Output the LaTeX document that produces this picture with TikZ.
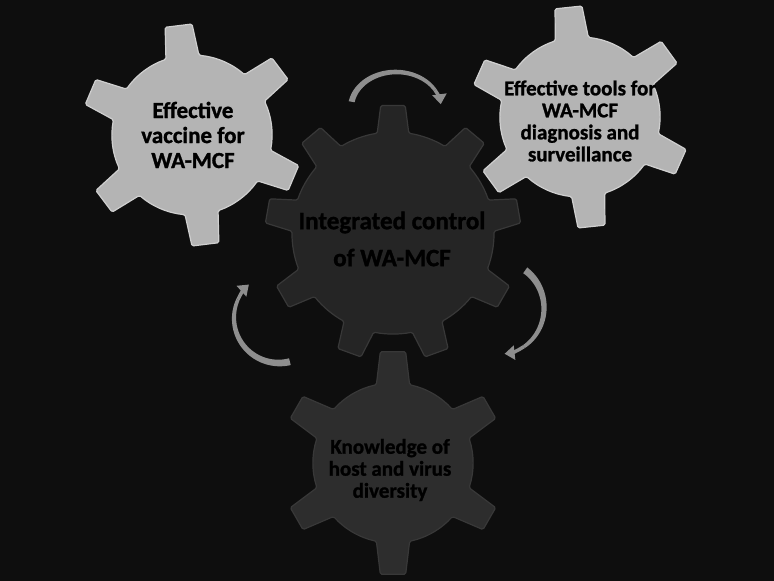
\documentclass[tikz,border=0pt]{standalone}
\usepackage{fontspec}
\setmainfont{Carlito}[BoldFeatures={FakeBold=1.2}]
\usetikzlibrary{arrows.meta}
\definecolor{bgc}{HTML}{0E0E0E}
\definecolor{lightg}{HTML}{B4B4B4}
\definecolor{lightedge}{HTML}{CFCFCF}
\definecolor{darkg}{HTML}{252525}
\definecolor{darkgb}{HTML}{2D2D2D}
\definecolor{darkedge}{HTML}{383838}
\definecolor{arrowc}{HTML}{8E8E8E}
\tikzset{
  lightgear/.style={fill=lightg, draw=lightedge, line width=1.2pt, rounded corners=1.5pt},
  centralgear/.style={fill=darkg, draw=darkedge, line width=1.2pt, rounded corners=1.5pt},
  bottomgear/.style={fill=darkgb, draw=darkedge, line width=1.2pt, rounded corners=1.5pt},
  smalltext/.style={font=\bfseries\fontsize{21}{22}\selectfont, align=center, text=black, inner sep=0pt},
  vactext/.style={font=\bfseries\fontsize{23}{25}\selectfont, align=center, text=black, inner sep=0pt},
  bigtext/.style={font=\bfseries\fontsize{25}{37}\selectfont, align=center, text=black, inner sep=0pt}
}
% #1 cx, #2 cy, #3 teeth, #4 first tooth angle, #5 body radius, #6 outer radius, #7 tip half-angle, #8 base half-angle, #9 style
\newcommand\gearshape[9]{%
  \begin{scope}[shift={(#1,#2)},yscale=-1]
    \path[#9] ({#4-#8}:#5)
      \foreach \k in {1,...,#3}{
        -- ({#4+(\k-1)*360/#3-#7}:#6)
        -- ({#4+(\k-1)*360/#3+#7}:#6)
        -- ({#4+(\k-1)*360/#3+#8}:#5)
        arc[start angle={#4+(\k-1)*360/#3+#8}, end angle={#4+\k*360/#3-#8}, radius=#5]
      } -- cycle;
  \end{scope}}
% #1 cx, #2 cy, #3 rx, #4 ry, #5 tail angle, #6 head base angle, #7 tip angle, #8 tail width, #9 width at head
\newcommand\spinarrow[9]{%
  \begin{scope}[shift={(#1,#2)},yscale=-1]
    \fill[arrowc] plot[domain=#5:#6,samples=40]
      ({(#3+0.5*(#8+(#9-#8)*(\x-(#5))/((#6)-(#5))))*cos(\x)},{(#4+0.5*(#8+(#9-#8)*(\x-(#5))/((#6)-(#5))))*sin(\x)})
      -- plot[domain=#6:#5,samples=40]
      ({(#3-0.5*(#8+(#9-#8)*(\x-(#5))/((#6)-(#5))))*cos(\x)},{(#4-0.5*(#8+(#9-#8)*(\x-(#5))/((#6)-(#5))))*sin(\x)})
      -- cycle;
    \draw[arrowc, line width=#9pt, -{Triangle[width=14pt,length=10pt]}]
      (#6:#3 and #4) arc[start angle=#6, end angle=#7, x radius=#3, y radius=#4];
  \end{scope}}
\begin{document}
\begin{tikzpicture}[x=1pt,y=-1pt]
  \fill[bgc] (0,0) rectangle (774,581);
  \useasboundingbox (0,0) rectangle (774,581);
  % gears
  \gearshape{393}{233}{9}{90}{101}{128}{5.5}{9}{centralgear}
  \gearshape{393}{463}{6}{90}{80}{112}{6.5}{12}{bottomgear}
  \gearshape{192}{135}{6}{97}{80}{111}{7}{12}{lightgear}
  \gearshape{580}{117}{6}{96}{80}{111}{7}{12}{lightgear}
  % rotation arrows
  \spinarrow{396}{108}{45}{36}{170}{30}{6}{6}{3.5}
  \spinarrow{500}{308}{44}{46}{55}{-57}{-84}{7}{3.5}
  \spinarrow{279}{318}{45}{45}{284}{156}{132}{7}{3.5}
  % texts
  \node[vactext] (vaccine) at (193,135) {Effective\\vaccine for\\WA-MCF};
  \node[smalltext] (tools) at (580,121) {Effective tools for\\WA-MCF\\diagnosis and\\surveillance};
  \node[bigtext] (central) at (392,239) {Integrated control\\of WA-MCF};
  \node[smalltext] (knowledge) at (390,470) {Knowledge of\\host and virus\\diversity};
\end{tikzpicture}
\end{document}
